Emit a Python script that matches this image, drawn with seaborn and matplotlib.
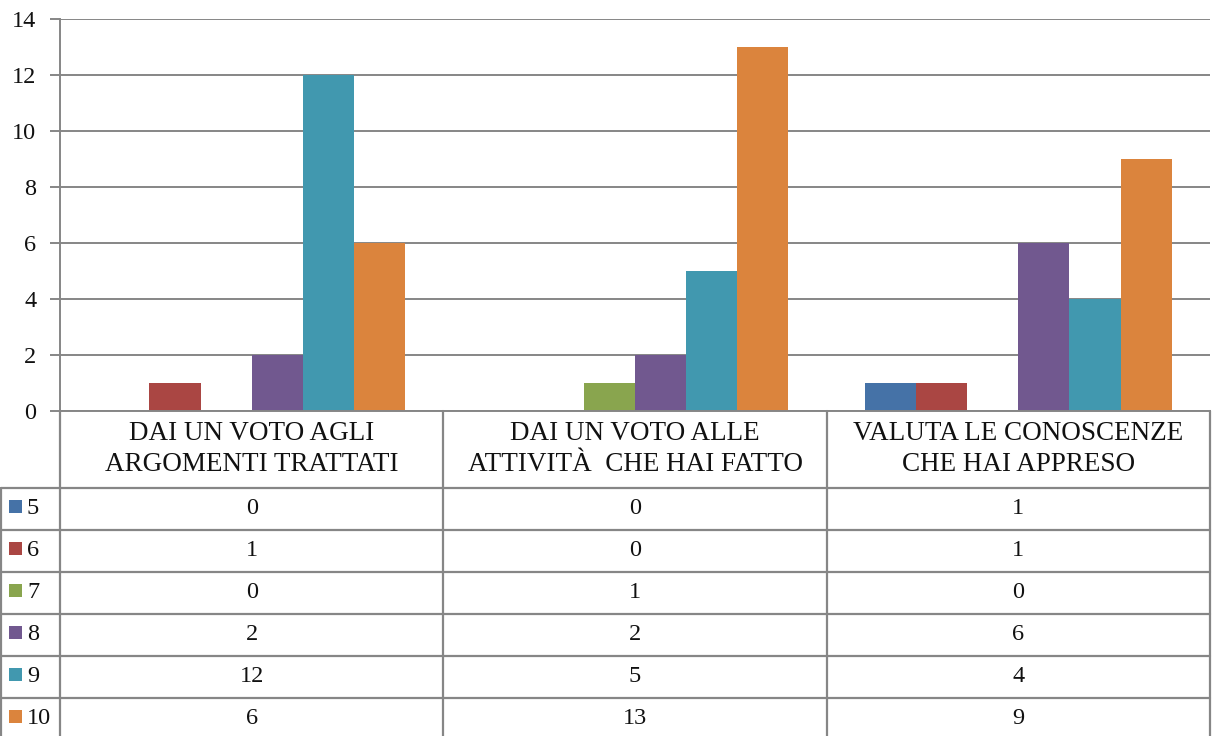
import numpy as np
import pandas as pd
import matplotlib
matplotlib.use("Agg")
import matplotlib.pyplot as plt
import seaborn as sns
from matplotlib.transforms import blended_transform_factory
from matplotlib.patches import Rectangle

categories = ["DAI UN VOTO AGLI\nARGOMENTI TRATTATI",
              "DAI UN VOTO ALLE\nATTIVITÀ  CHE HAI FATTO",
              "VALUTA LE CONOSCENZE\nCHE HAI APPRESO"]
series = ["5", "6", "7", "8", "9", "10"]
v5 = [0, 0, 1]
v6 = [1, 0, 1]
v7 = [0, 1, 0]
v8 = [2, 2, 6]
v9 = [12, 5, 4]
v10 = [6, 13, 9]
colors = ["#4572A7", "#AA4643", "#89A54E", "#71588F", "#4198AF", "#DB843D"]
yticks = [0, 2, 4, 6, 8, 10, 12, 14]

values = [v5, v6, v7, v8, v9, v10]
rows = []
for s, vals in zip(series, values):
    for c, v in zip(categories, vals):
        rows.append({"cat": c, "serie": s, "value": v})
df = pd.DataFrame(rows)

sns.set_style("white")
plt.rcParams["font.family"] = ["Liberation Serif", "DejaVu Serif"]

W, H = 1213, 736
fig = plt.figure(figsize=(W / 100, H / 100), dpi=100)
gray = "#868686"

ax = fig.add_axes([60 / W, (H - 411) / H, 1150 / W, 392 / H])
sns.barplot(data=df, x="cat", y="value", hue="serie", order=categories,
            hue_order=series, palette=colors, ax=ax, width=0.8,
            saturation=1, legend=False, linewidth=0)
ax.set_xlim(-0.5, 2.5)
ax.set_ylim(0, 14)
ax.set_yticks(yticks)
ax.set_yticklabels([str(t) for t in yticks])
ax.set_xticks([])
ax.set_xlabel("")
ax.set_ylabel("")
ax.yaxis.grid(True, color=gray, lw=1.4)
ax.set_axisbelow(True)
for side in ["top", "right"]:
    ax.spines[side].set_visible(False)
for side in ["left", "bottom"]:
    ax.spines[side].set_color(gray)
    ax.spines[side].set_linewidth(1.4)
ax.tick_params(axis="y", direction="out", length=7, width=1.4, color=gray,
               labelsize=17.5, pad=10, left=True, labelcolor="#111111")

# data table
th = H - 411
tax = fig.add_axes([60 / W, 0, 1150 / W, th / H])
tax.set_xlim(-0.5, 2.5)
tax.set_ylim(th, 0)
tax.axis("off")
tr = blended_transform_factory(tax.transAxes, tax.transData)

def fx(px):
    return (px - 60) / 1150

lw = 1.6
header_h = 77
row_h = 42
for i in range(len(series)):
    y = header_h + row_h * i
    tax.plot([fx(1), 1], [y, y], color=gray, lw=lw, transform=tr, clip_on=False)
for xb in [-0.5, 0.5, 1.5, 2.5]:
    tax.plot([xb, xb], [0, th], color=gray, lw=lw, clip_on=False)
tax.plot([fx(1), fx(1)], [header_h, th], color=gray, lw=lw, transform=tr, clip_on=False)

for i, c in enumerate(categories):
    tax.text(i, 38, c, ha="center", va="center", fontsize=19.5,
             linespacing=1.3, color="#111111")

for r, (s, vals, col) in enumerate(zip(series, values, colors)):
    yc = header_h + row_h * r + row_h / 2
    tax.add_patch(Rectangle((fx(9), yc - 9), 13 / 1150, 13, transform=tr,
                            facecolor=col, edgecolor="none", clip_on=False))
    tax.text(fx(27), yc, s, ha="left", va="center", fontsize=17.5,
             transform=tr, color="#111111")
    for i, v in enumerate(vals):
        tax.text(i, yc, str(v), ha="center", va="center", fontsize=17.5,
                 color="#111111")

fig.savefig("out.png", dpi=100)
